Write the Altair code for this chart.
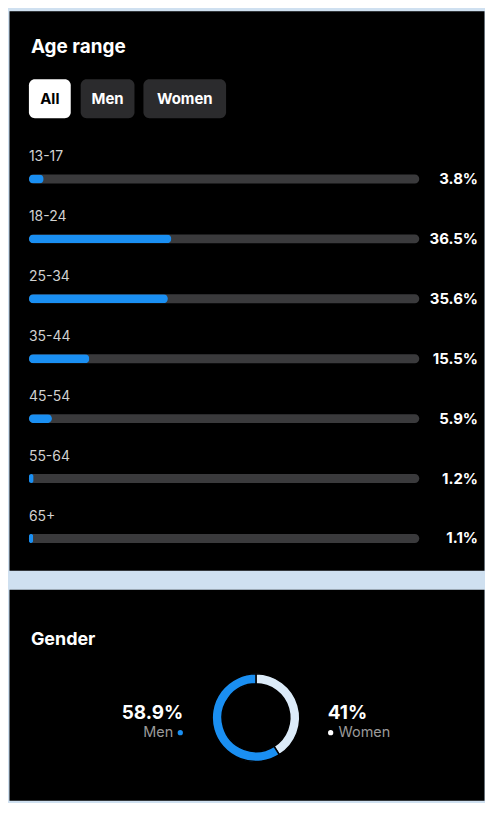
import altair as alt
import pandas as pd

# ---- data ----
ages = ["13-17", "18-24", "25-34", "35-44", "45-54", "55-64", "65+"]
age_pct = [3.8, 36.5, 35.6, 15.5, 5.9, 1.2, 1.1]
genders = ["Women", "Men"]
gender_pct = [41, 58.9]
buttons = ["All", "Men", "Women"]

FONT = "Inter"
BLUE = "#1a8ff2"
TRACK = "#3a3a3c"
LIGHT = "#dcebf9"

age_df = pd.DataFrame({"age": ages, "pct": age_pct})
age_df["label"] = [f"{v:.1f}%" for v in age_pct]
gender_df = pd.DataFrame({"gender": genders, "pct": gender_pct})
gender_df["label"] = [f"{v:g}%" for v in gender_pct]
btn_df = pd.DataFrame({"b": buttons})

# ---- top panel: age range ----
xs = alt.Scale(domain=[0, 100], range=[20, 412])
ys = alt.Scale(type="point", domain=ages, range=[169, 530], padding=0)
base = alt.Chart(age_df)
Y = alt.Y("age:N", scale=ys, axis=None)

track = base.mark_bar(size=9, cornerRadius=4.5, color=TRACK).encode(
    x=alt.X(datum=100, type="quantitative", scale=xs, axis=None), y=Y)
bars = base.mark_bar(size=9, cornerRadius=4.5, color=BLUE).encode(
    x=alt.X("pct:Q", scale=xs, axis=None), y=Y)
age_lbl = base.mark_text(align="left", baseline="middle", dy=-22, fontSize=14,
                         color="#d2d2d2", font=FONT).encode(
    x=alt.value(20), y=Y, text="age:N")
pct_lbl = base.mark_text(align="right", baseline="middle", fontSize=15,
                         fontWeight="bold", color="white", font=FONT).encode(
    x=alt.value(471), y=Y, text="label:N")

title1 = alt.Chart(pd.DataFrame({"t": ["Age range"]})).mark_text(
    align="left", baseline="middle", fontSize=19, fontWeight="bold",
    color="white", font=FONT).encode(x=alt.value(22), y=alt.value(37), text="t:N")


def button(label, x0, x1, active):
    d = alt.Chart(btn_df).transform_filter(f"datum.b == '{label}'")
    box = d.mark_rect(cornerRadius=6, color="white" if active else "#2b2b2d").encode(
        x=alt.value(x0), x2=alt.value(x1), y=alt.value(69), y2=alt.value(108))
    txt = d.mark_text(align="center", baseline="middle", fontSize=15, fontWeight="bold",
                      color="black" if active else "white", font=FONT).encode(
        x=alt.value((x0 + x1) / 2), y=alt.value(89), text="b:N")
    return [box, txt]


btn_layers = button("All", 20, 62, True) + button("Men", 72, 126, False) + \
    button("Women", 135, 218, False)

top = alt.layer(track, bars, age_lbl, pct_lbl, title1, *btn_layers).properties(
    width=477, height=562)

# ---- bottom panel: gender ----
gbase = alt.Chart(gender_df)
cscale = alt.Scale(domain=["Women", "Men"], range=[LIGHT, BLUE])
donut = gbase.mark_arc(outerRadius=44, innerRadius=34, stroke="black", strokeWidth=1.5).encode(
    theta=alt.Theta("pct:Q", stack=True),
    color=alt.Color("gender:N", scale=cscale, legend=None),
    order=alt.Order("gender:N", sort="descending"),
    x=alt.value(248), y=alt.value(129))

men = gbase.transform_filter("datum.gender == 'Men'")
women = gbase.transform_filter("datum.gender == 'Women'")
men_val = men.mark_text(align="right", baseline="middle", fontSize=19, fontWeight="bold",
                        color="white", font=FONT).encode(
    x=alt.value(175), y=alt.value(124), text="label:N")
men_name = men.mark_text(align="right", baseline="middle", fontSize=14.5,
                         color="#9a9a9a", font=FONT).encode(
    x=alt.value(165), y=alt.value(144), text="gender:N")
men_dot = men.mark_point(filled=True, size=28, opacity=1).encode(
    x=alt.value(172), y=alt.value(144),
    color=alt.Color("gender:N", scale=cscale, legend=None))
women_val = women.mark_text(align="left", baseline="middle", fontSize=19, fontWeight="bold",
                            color="white", font=FONT).encode(
    x=alt.value(320), y=alt.value(124), text="label:N")
women_name = women.mark_text(align="left", baseline="middle", fontSize=14.5,
                             color="#9a9a9a", font=FONT).encode(
    x=alt.value(331), y=alt.value(144), text="gender:N")
women_dot = women.mark_point(filled=True, size=28, opacity=1, color="white").encode(
    x=alt.value(323), y=alt.value(144))

title2 = alt.Chart(pd.DataFrame({"t": ["Gender"]})).mark_text(
    align="left", baseline="middle", fontSize=18, fontWeight="bold",
    color="white", font=FONT).encode(x=alt.value(22), y=alt.value(51), text="t:N")

bottom = alt.layer(donut, men_val, men_name, men_dot, women_val, women_name,
                   women_dot, title2).properties(width=477, height=212)

chart = alt.vconcat(top, bottom, spacing=17).properties(
    background="#cfe0f0", padding=0
).configure_view(fill="#000000", stroke="transparent")

chart.save("out.html", embed_options={"renderer": "svg", "actions": False})
